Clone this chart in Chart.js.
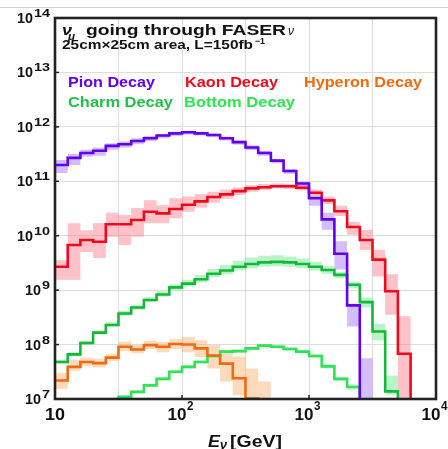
<!DOCTYPE html>
<html>
<head>
<meta charset="utf-8">
<script src="https://cdn.jsdelivr.net/npm/chart.js@4.4.1/dist/chart.umd.min.js"></script>
<style>
  html, body { margin: 0; padding: 0; background: #fff; }
  canvas { display: block; }
</style>
</head>
<body>
<canvas id="myChart" width="448" height="449"></canvas>
<script>
// bin edges in log10(E / GeV), 10 bins per decade
const logEdges = [1.0, 1.1, 1.2, 1.3, 1.4, 1.5, 1.6, 1.7, 1.8, 1.9, 2.0, 2.1, 2.2, 2.3, 2.4, 2.5,
  2.6, 2.7, 2.8, 2.9, 3.0, 3.1, 3.2, 3.3, 3.4, 3.5, 3.6, 3.7, 3.8, 3.9, 4.0];

// log10(neutrinos per bin); 6 means below the bottom of the plot
const pion = [11.30, 11.43, 11.52, 11.56, 11.65, 11.68, 11.74, 11.79, 11.84, 11.88, 11.90, 11.88, 11.85, 11.79, 11.72,
  11.62, 11.52, 11.38, 11.19, 10.96, 10.69, 10.30, 9.67, 8.72, 6.9, 6, 6, 6, 6, 6];
const pionLo = [11.15, 11.30, 11.45, 11.47, 11.58, 11.62, 11.68, 11.74, 11.79, 11.83, 11.86, 11.84, 11.81, 11.75, 11.67,
  11.57, 11.47, 11.33, 11.14, 10.90, 10.55, 10.11, 9.38, 8.33, 6, 6, 6, 6, 6, 6];
const pionHi = [11.39, 11.50, 11.58, 11.62, 11.70, 11.73, 11.79, 11.83, 11.87, 11.91, 11.93, 11.91, 11.88, 11.82, 11.75,
  11.66, 11.56, 11.41, 11.22, 10.99, 10.72, 10.42, 9.90, 8.75, 7.75, 6, 6, 6, 6, 6];

const kaon = [9.43, 9.83, 9.92, 9.89, 10.21, 10.21, 10.29, 10.44, 10.41, 10.49, 10.57, 10.63, 10.71, 10.76, 10.82,
  10.87, 10.89, 10.91, 10.91, 10.88, 10.79, 10.65, 10.45, 10.16, 9.92, 9.56, 8.98, 7.83, 6, 6];
const kaonLo = [9.19, 9.19, 9.70, 9.59, 9.98, 9.83, 9.98, 10.23, 10.23, 10.32, 10.44, 10.52, 10.61, 10.68, 10.75,
  10.81, 10.84, 10.87, 10.86, 10.83, 10.73, 10.58, 10.36, 10.02, 9.74, 9.25, 8.55, 6.9, 6, 6];
const kaonHi = [9.55, 10.23, 10.10, 10.23, 10.42, 10.38, 10.51, 10.65, 10.56, 10.69, 10.72, 10.76, 10.81, 10.85, 10.89,
  10.93, 10.95, 10.96, 10.95, 10.93, 10.85, 10.72, 10.55, 10.25, 10.11, 9.74, 9.29, 8.52, 6, 6];

const hyperon = [7.34, 7.59, 7.68, 7.66, 7.76, 7.96, 7.91, 7.99, 7.96, 8.01, 8.00, 7.93, 7.80, 7.65, 7.38,
  7.01, 6, 6, 6, 6, 6, 6, 6, 6, 6, 6, 6, 6, 6, 6];
const hyperonLo = [7.19, 7.52, 7.60, 7.58, 7.70, 7.88, 7.84, 7.92, 7.86, 7.92, 7.86, 7.77, 7.56, 7.32, 7.07,
  6.5, 6.5, 6, 6, 6, 6, 6, 6, 6, 6, 6, 6, 6, 6, 6];
const hyperonHi = [7.48, 7.72, 7.76, 7.74, 7.83, 8.05, 7.99, 8.07, 8.05, 8.10, 8.14, 8.08, 7.99, 7.84, 7.78,
  7.56, 7.32, 6, 6, 6, 6, 6, 6, 6, 6, 6, 6, 6, 6, 6];

const charm = [7.68, 7.82, 8.03, 8.22, 8.36, 8.57, 8.68, 8.82, 8.92, 9.05, 9.12, 9.20, 9.30, 9.36, 9.43,
  9.48, 9.51, 9.52, 9.51, 9.48, 9.43, 9.37, 9.28, 9.10, 8.78, 8.24, 7.14, 6, 6, 6];
const charmLo = [7.65, 7.79, 8.00, 8.19, 8.33, 8.53, 8.64, 8.78, 8.88, 9.00, 9.07, 9.14, 9.24, 9.29, 9.36,
  9.40, 9.43, 9.44, 9.43, 9.40, 9.36, 9.30, 9.22, 9.03, 8.68, 8.08, 7.08, 6, 6, 6];
const charmHi = [7.72, 7.86, 8.07, 8.26, 8.41, 8.62, 8.73, 8.87, 8.98, 9.11, 9.19, 9.28, 9.39, 9.46, 9.54,
  9.60, 9.63, 9.64, 9.62, 9.58, 9.52, 9.44, 9.34, 9.16, 8.86, 8.38, 7.43, 6, 6, 6];

const bottom = [6, 6, 6, 6, 6, 7.04, 7.13, 7.25, 7.37, 7.50, 7.59, 7.68, 7.79, 7.87, 7.88,
  7.93, 7.98, 7.96, 7.92, 7.87, 7.79, 7.60, 7.37, 7.22, 6, 6, 6, 6, 6, 6];
const bottomLo = [6, 6, 6, 6, 6, 7.01, 7.10, 7.22, 7.34, 7.47, 7.56, 7.65, 7.76, 7.84, 7.85,
  7.90, 7.95, 7.93, 7.89, 7.84, 7.76, 7.56, 7.33, 7.17, 6, 6, 6, 6, 6, 6];
const bottomHi = [6, 6, 6, 6, 6, 7.07, 7.16, 7.28, 7.40, 7.53, 7.62, 7.71, 7.82, 7.90, 7.91,
  7.96, 8.01, 7.99, 7.95, 7.90, 7.82, 7.64, 7.41, 7.27, 6, 6, 6, 6, 6, 6];

// axis grid / labels
const xGrid = [10, 31.62, 100, 316.2, 1000, 3162, 10000];
const xTicks = [10, 100, 1000, 10000];
const yTicks = [7, 8, 9, 10, 11, 12, 13, 14];

const series = [
  { name: 'Pion Decay', vals: pion, lo: pionLo, hi: pionHi, color: '#6300ee', band: 'rgba(150, 100, 245, 0.42)' },
  { name: 'Kaon Decay', vals: kaon, lo: kaonLo, hi: kaonHi, color: '#ee0a1c', band: 'rgba(255, 110, 125, 0.42)' },
  { name: 'Hyperon Decay', vals: hyperon, lo: hyperonLo, hi: hyperonHi, color: '#f06a12', band: 'rgba(245, 160, 80, 0.38)' },
  { name: 'Charm Decay', vals: charm, lo: charmLo, hi: charmHi, color: '#16b83a', band: 'rgba(70, 225, 110, 0.38)' },
  { name: 'Bottom Decay', vals: bottom, lo: bottomLo, hi: bottomHi, color: '#2ee455', band: 'rgba(70, 235, 110, 0.3)' },
];

function stepPoints(logs) {
  const pts = logs.map((v, i) => ({ x: 10 ** logEdges[i], y: 10 ** v }));
  pts.push({ x: 10 ** logEdges[logs.length], y: 10 ** logs[logs.length - 1] });
  return pts;
}

const datasets = [];
series.forEach(s => {
  datasets.push({ data: stepPoints(s.lo), stepped: true, fill: false, borderWidth: 0,
    borderColor: 'transparent', pointRadius: 0, order: 3 });
  datasets.push({ data: stepPoints(s.hi), stepped: true, fill: '-1', borderWidth: 0,
    borderColor: 'transparent', backgroundColor: s.band, pointRadius: 0, order: 3 });
});
series.forEach(s => {
  datasets.push({ label: s.name, data: stepPoints(s.vals), stepped: true, fill: false,
    borderColor: s.color, borderWidth: 2.6, pointRadius: 0, order: 1 });
});

const FONT = '"Liberation Sans", Arial, sans-serif';

// draw text stretched to a given width (the figure's lettering is wide)
function put(ctx, str, x, y, w, size, color, style) {
  ctx.save();
  ctx.font = (style || 'bold') + ' ' + size + 'px ' + FONT;
  ctx.fillStyle = color || '#111';
  ctx.textAlign = 'left';
  ctx.textBaseline = 'alphabetic';
  const m = ctx.measureText(str).width;
  ctx.translate(x, y);
  if (w) ctx.scale(w / m, 1);
  ctx.fillText(str, 0, 0);
  ctx.restore();
}

const decorations = {
  id: 'decorations',
  afterDraw(chart) {
    const ctx = chart.ctx;
    const a = chart.chartArea;
    const xs = chart.scales.x, ys = chart.scales.y;

    // inward tick marks
    ctx.save();
    ctx.strokeStyle = '#222';
    ctx.lineWidth = 1.5;
    yTicks.forEach(k => {
      const y = ys.getPixelForValue(10 ** k);
      ctx.beginPath(); ctx.moveTo(a.left, y); ctx.lineTo(a.left + 4, y); ctx.stroke();
    });
    xTicks.forEach(v => {
      const x = xs.getPixelForValue(v);
      ctx.beginPath(); ctx.moveTo(x, a.bottom); ctx.lineTo(x, a.bottom - 4); ctx.stroke();
    });
    // frame
    ctx.lineWidth = 2.6;
    ctx.strokeRect(a.left, a.top, a.right - a.left, a.bottom - a.top);
    ctx.restore();

    // y tick labels 10^k
    yTicks.forEach(k => {
      const y = ys.getPixelForValue(10 ** k);
      const e = String(k);
      const ew = e.length === 2 ? 16 : 8;
      put(ctx, '10', 50 - ew - 17, y + 5, 16, 14);
      put(ctx, e, 50 - ew, y - 1, ew, 10);
    });

    // x tick labels
    xTicks.forEach((v, i) => {
      const x = xs.getPixelForValue(v);
      if (i === 0) {
        put(ctx, '10', x - 10, 420, 20, 17);
      } else {
        put(ctx, '10', x - 14.5, 420, 19, 17);
        put(ctx, String(i + 1), x + 5, 410, 6.5, 12);
      }
    });

    // axis title
    put(ctx, 'E', 208, 447, 12, 17, '#111', 'italic bold');
    put(ctx, 'ν', 220, 449, 7, 12, '#111', 'italic bold');
    put(ctx, '[GeV]', 230, 447, 52, 17);

    // title inside the frame
    put(ctx, 'ν', 62, 35, 10, 15, '#111', 'italic bold');
    put(ctx, 'μ', 68, 40, 7, 10, '#111', 'italic bold');
    put(ctx, 'going through FASER', 86, 35, 200, 14);
    put(ctx, 'ν', 288, 35, 6, 13, '#111', 'italic');
    put(ctx, '25cm×25cm area, L=150fb', 62, 49, 191, 13);
    put(ctx, '−1', 255, 44, 10, 9);

    // legend
    put(ctx, 'Pion Decay', 68, 87, 87, 14, series[0].color);
    put(ctx, 'Kaon Decay', 185, 87, 93, 14, series[1].color);
    put(ctx, 'Hyperon Decay', 304, 87, 118, 14, series[2].color);
    put(ctx, 'Charm Decay', 68, 107, 105, 14, '#22c048');
    put(ctx, 'Bottom Decay', 184, 107, 111, 14, series[4].color);
  },
  beforeDraw(chart) {
    const ctx = chart.ctx;
    ctx.save();
    ctx.strokeStyle = '#cfcfcf';
    ctx.lineWidth = 1;
    ctx.beginPath(); ctx.moveTo(0, 7.5); ctx.lineTo(448, 7.5); ctx.stroke();
    ctx.restore();
  }
};

const ctx = document.getElementById('myChart').getContext('2d');

new Chart(ctx, {
  type: 'line',
  data: { datasets },
  options: {
    responsive: false,
    animation: false,
    layout: { padding: { left: 55, right: 12, top: 18, bottom: 50 } },
    plugins: { legend: { display: false }, tooltip: { enabled: false } },
    scales: {
      x: {
        type: 'logarithmic', min: 10, max: 10000,
        ticks: { display: false },
        grid: { color: '#dcdcdc', drawTicks: false },
        border: { display: false },
        afterBuildTicks: s => { s.ticks = xGrid.map(v => ({ value: v })); },
      },
      y: {
        type: 'logarithmic', min: 1e7, max: 1e14,
        ticks: { display: false },
        grid: { color: '#dcdcdc', drawTicks: false },
        border: { display: false },
        afterBuildTicks: s => { s.ticks = yTicks.map(k => ({ value: 10 ** k })); },
      },
    },
  },
  plugins: [decorations],
});
</script>
</body>
</html>
